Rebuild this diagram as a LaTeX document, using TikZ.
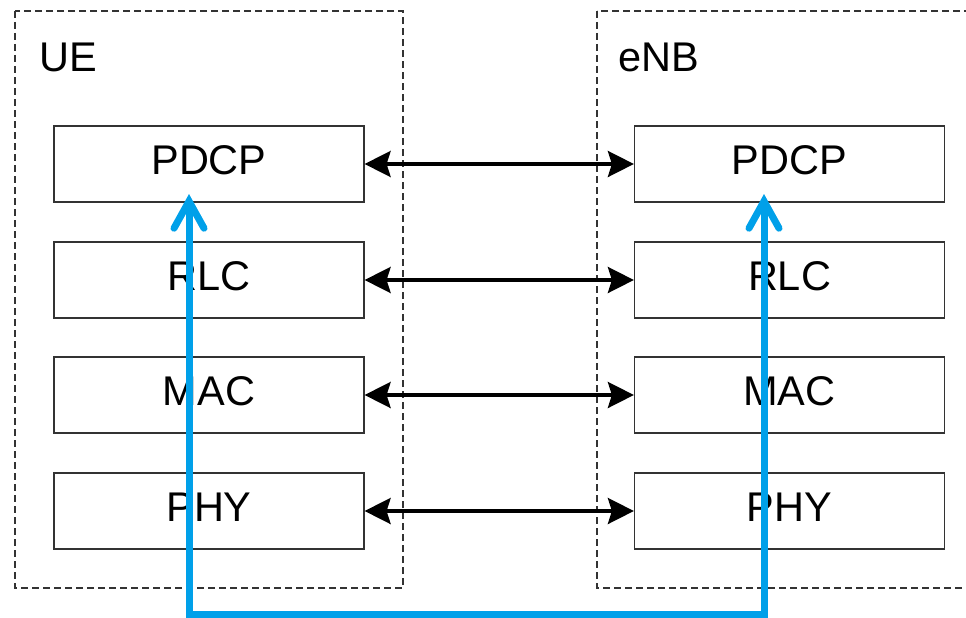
\documentclass[tikz,border=0pt]{standalone}
\usepackage{fontspec}
\setmainfont{Liberation Sans}
\usetikzlibrary{arrows.meta}
\definecolor{lineblue}{RGB}{0,160,233}
\definecolor{boxgray}{RGB}{51,51,51}
\begin{document}
\begin{tikzpicture}[x=1pt,y=-1pt,
  layerbox/.style={draw=boxgray, line width=1.2pt, fill=white, minimum width=310pt, minimum height=76pt, inner sep=0pt, text height=30pt, text depth=8.7pt, font=\fontsize{41.5}{48}\selectfont},
  groupbox/.style={draw=boxgray, line width=1.2pt, dash pattern=on 7pt off 4pt},
  peer/.style={line width=3.5pt, {Stealth[length=26pt,width=26pt,inset=4pt]}-{Stealth[length=26pt,width=26pt,inset=4pt]}},
  flow/.style={draw=lineblue, line width=7pt, {Straight Barb[length=27pt,width=30pt,line cap=round,line join=miter]}-{Straight Barb[length=27pt,width=30pt,line cap=round,line join=miter]}},
  grouplabel/.style={anchor=base west, inner sep=0pt, font=\fontsize{41.5}{48}\selectfont}]
\useasboundingbox (0,0) rectangle (966,618);
\clip (0,0) rectangle (966,618);
\draw[groupbox] (15,11) rectangle (403,588);
\draw[groupbox] (597,11) rectangle (1010,588);
\node[grouplabel] (uelabel) at (39,71) {UE};
\node[grouplabel] (enblabel) at (618,71) {eNB};
\node[layerbox] (uepdcp) at (209,164) {PDCP};
\node[layerbox] (uerlc) at (209,280) {RLC};
\node[layerbox] (uemac) at (209,395) {MAC};
\node[layerbox] (uephy) at (209,511) {PHY};
\node[layerbox] (enbpdcp) at (789.5,164) {PDCP};
\node[layerbox] (enbrlc) at (789.5,280) {RLC};
\node[layerbox] (enbmac) at (789.5,395) {MAC};
\node[layerbox] (enbphy) at (789.5,511) {PHY};
\draw[peer] (uepdcp.east) -- (enbpdcp.west);
\draw[peer] (uerlc.east) -- (enbrlc.west);
\draw[peer] (uemac.east) -- (enbmac.west);
\draw[peer] (uephy.east) -- (enbphy.west);
\coordinate (ueup) at (189,194);
\coordinate (uedown) at (189,614.5);
\coordinate (enbdown) at (764,614.5);
\coordinate (enbup) at (764,194);
\draw[flow] (ueup) -- (uedown) -- (enbdown) -- (enbup);
\end{tikzpicture}
\end{document}
